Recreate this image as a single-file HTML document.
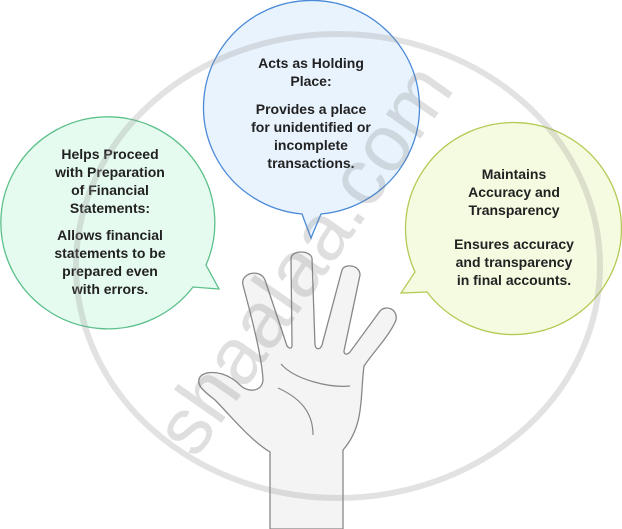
<!DOCTYPE html>
<html><head><meta charset="utf-8"><style>
html,body{margin:0;padding:0;background:#fff;}
svg{display:block;}
text{font-family:"Liberation Sans",sans-serif;font-weight:bold;font-size:14px;fill:#222;text-anchor:middle;}
</style></head><body>
<svg width="622" height="529" viewBox="0 0 622 529" xmlns="http://www.w3.org/2000/svg">
<path d="M206,265 A107,106 0 1 0 193,287 L219,289 Z" fill="#e6fbef" stroke="#5cc08b" stroke-width="1.3"/>
<path d="M302,214 A108,107 0 1 1 321,214 L311,238 Z" fill="#e9f3fe" stroke="#4a8ad8" stroke-width="1.3"/>
<path d="M415,272 A108,106 0 1 1 427,292 L401,293 Z" fill="#f5fbe1" stroke="#b3cb55" stroke-width="1.3"/>
<path d="M270,529 L270,452 C250,440 230,415 215,400 C205,392 195,385 200,377 C205,370 225,370 240,385 C248,393 262,392 263,380 C262,360 255,330 243,285 C240,273 260,268 265,280 L287,346 C290,349 292,349 292,345 L291,258 C292,250 310,250 312,258 L315,345 C316,350 320,350 322,345 L342,270 C345,263 360,265 360,275 L344,351 C344,355 347,355 350,352 L380,311 C385,305 398,308 396,320 C390,335 375,350 364,366 C360,395 365,425 343,450 L343,529 Z" fill="#f4f4f4" stroke="#888" stroke-width="1.3"/>
<path d="M281,364 C295,380 330,388 350,386" fill="none" stroke="#888" stroke-width="1.2"/>
<path d="M278,388 C300,398 313,412 313,435" fill="none" stroke="#888" stroke-width="1.2"/>
<text x="110" y="159">Helps Proceed</text>
<text x="110" y="177">with Preparation</text>
<text x="110" y="195">of Financial</text>
<text x="110" y="213">Statements:</text>
<text x="110" y="240">Allows financial</text>
<text x="110" y="258">statements to be</text>
<text x="110" y="276">prepared even</text>
<text x="110" y="294">with errors.</text>
<text x="311" y="68">Acts as Holding</text>
<text x="311" y="86">Place:</text>
<text x="311" y="114">Provides a place</text>
<text x="311" y="132">for unidentified or</text>
<text x="311" y="150">incomplete</text>
<text x="311" y="168">transactions.</text>
<text x="514" y="179">Maintains</text>
<text x="514" y="197">Accuracy and</text>
<text x="514" y="215">Transparency</text>
<text x="514" y="249">Ensures accuracy</text>
<text x="514" y="267">and transparency</text>
<text x="514" y="285">in final accounts.</text>
<ellipse cx="338" cy="266" rx="262" ry="232" fill="none" stroke="rgba(150,150,150,0.28)" stroke-width="6"/>
<text x="305" y="285" transform="rotate(-55 305 260)" style="font-size:80px;font-weight:normal;fill:rgba(120,120,120,0.24)">shaalaa.com</text>
</svg>
</body></html>
